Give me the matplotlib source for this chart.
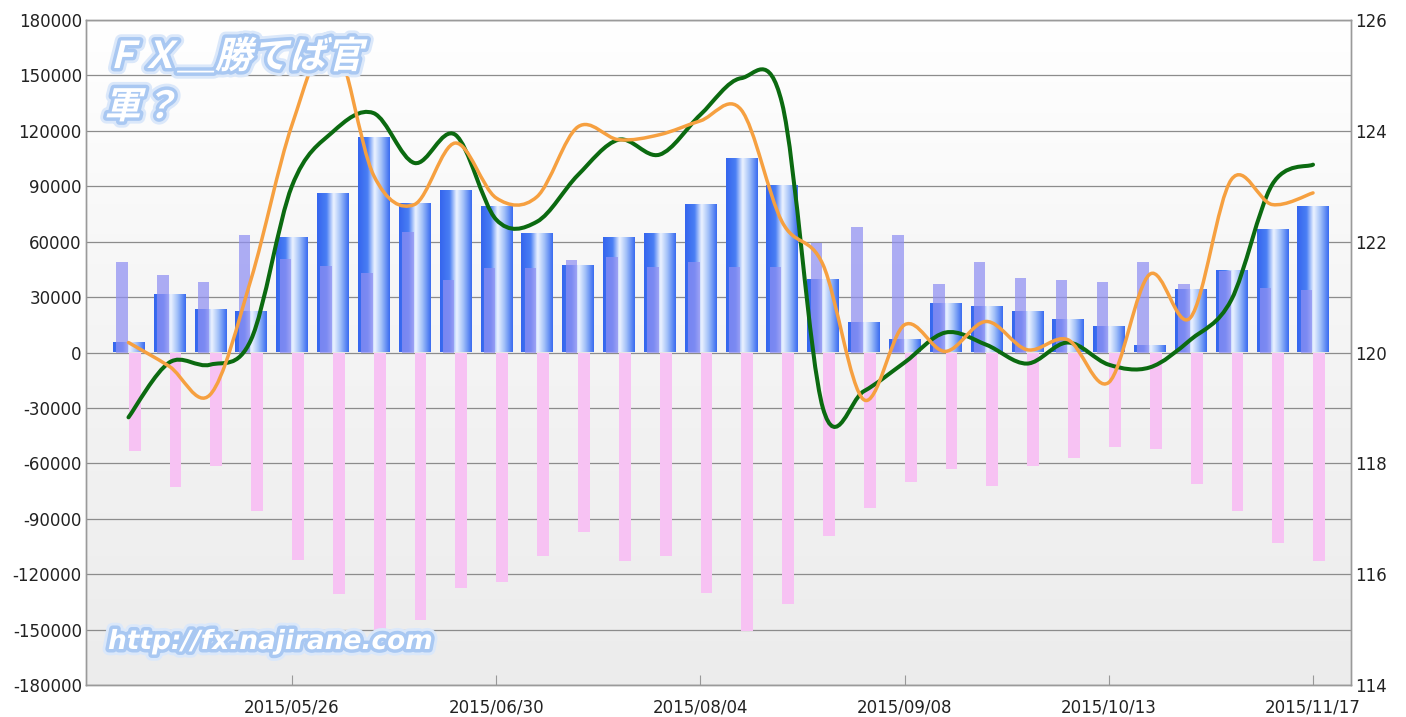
import numpy as np
import matplotlib
matplotlib.use("Agg")
import matplotlib.pyplot as plt
from matplotlib.path import Path
from matplotlib.patches import PathPatch
from matplotlib.colors import LinearSegmentedColormap
from matplotlib.textpath import TextPath
from matplotlib.font_manager import FontProperties
from matplotlib.transforms import Affine2D, IdentityTransform
import matplotlib.patheffects as pe

plt.rcParams['axes.unicode_minus'] = False

# 週ごとの日付
dates = ['2015/04/28', '2015/05/05', '2015/05/12', '2015/05/19', '2015/05/26',
         '2015/06/02', '2015/06/09', '2015/06/16', '2015/06/23', '2015/06/30',
         '2015/07/07', '2015/07/14', '2015/07/21', '2015/07/28', '2015/08/04',
         '2015/08/11', '2015/08/18', '2015/08/25', '2015/09/01', '2015/09/08',
         '2015/09/15', '2015/09/22', '2015/09/29', '2015/10/06', '2015/10/13',
         '2015/10/20', '2015/10/27', '2015/11/03', '2015/11/10', '2015/11/17']

# ネットポジション（青）
net = [5000, 31000, 23000, 22000, 62000, 86000, 116000, 80500, 87500, 79000,
       64000, 47000, 62000, 64000, 80000, 105000, 90000, 39500, 16000, 7000,
       26500, 24500, 22000, 17500, 14000, 3500, 34000, 44000, 66500, 78500]

# ロング（紫）
longs = [49000, 42000, 38000, 63500, 50500, 47000, 43000, 65000, 39500, 46000,
         46000, 50000, 51500, 46500, 49000, 46500, 46500, 59500, 68000, 63500,
         37000, 49000, 40500, 39500, 38000, 49000, 37000, 44000, 35000, 34000]

# ショート（ピンク）
shorts = [-53500, -73000, -61500, -86000, -112500, -131000, -153500, -145000, -127500, -124000,
          -110000, -97000, -113000, -110000, -130000, -151000, -136000, -99500, -84000, -70000,
          -63000, -72000, -61500, -57000, -51000, -52000, -71000, -86000, -103000, -113000]

# 右軸のライン
green_line = [118.83, 119.82, 119.78, 120.23, 123.0, 123.98, 124.32, 123.42, 123.93, 122.4,
              122.36, 123.2, 123.84, 123.57, 124.29, 124.95, 124.5, 119.0, 119.3, 119.82,
              120.36, 120.14, 119.8, 120.18, 119.78, 119.73, 120.23, 120.95, 123.03, 123.39]
orange_line = [120.18, 119.75, 119.24, 121.32, 124.1, 125.65, 123.2, 122.67, 123.78, 122.79,
               122.81, 124.07, 123.84, 123.93, 124.18, 124.38, 122.36, 121.59, 119.15, 120.5,
               120.02, 120.56, 120.05, 120.23, 119.46, 121.41, 120.63, 123.12, 122.67, 122.88]

tick_idx = [4, 9, 14, 19, 24, 29]


def smooth_path(xs, ys):
    # Catmull-Rom をベジェ曲線に変換
    pts = np.column_stack([xs, ys]).astype(float)
    ext = np.vstack([pts[0], pts, pts[-1]])
    verts = [pts[0]]
    codes = [Path.MOVETO]
    for i in range(len(pts) - 1):
        p0, p1, p2, p3 = ext[i], ext[i + 1], ext[i + 2], ext[i + 3]
        verts += [p1 + (p2 - p0) / 6, p2 - (p3 - p1) / 6, p2]
        codes += [Path.CURVE4] * 3
    return Path(verts, codes)


fig = plt.figure(figsize=(14.06, 7.17), dpi=100)
ax = fig.add_axes([86 / 1406, 1 - 685 / 717, (1351 - 86) / 1406, (685 - 20) / 717])

# 背景のグラデーション
bg = LinearSegmentedColormap.from_list('bg', [(0, '#ececec'), (0.45, '#f3f3f3'), (1, '#ffffff')])
ax.imshow(np.linspace(0, 1, 256).reshape(-1, 1), extent=(0, 1, 0, 1), transform=ax.transAxes,
          cmap=bg, aspect='auto', origin='lower', zorder=0)

x = np.arange(len(dates))

# 青い棒（横方向グラデーション）
blue_cm = LinearSegmentedColormap.from_list(
    'blue', [(0, '#3565ee'), (0.3, '#4a7ff4'), (0.52, '#eef4ff'), (0.75, '#9dbdf8'), (1, '#3a6cf0')])
grad = np.linspace(0, 1, 64).reshape(1, -1)
for xi, v in zip(x, net):
    ax.imshow(grad, extent=(xi - 0.38, xi + 0.38, 0, v), cmap=blue_cm, aspect='auto',
              interpolation='bicubic', zorder=2)

ax.bar(x - 0.16, longs, width=0.28, color='#8f8ff2', alpha=0.72, linewidth=0, zorder=3)
ax.bar(x + 0.15, shorts, width=0.29, color='#f7c2f3', linewidth=0, zorder=3)

ax.set_xlim(-1.04, 29.93)
ax.set_ylim(-180000, 180000)
ax.set_yticks(range(-180000, 180001, 30000))
ax.set_xticks(tick_idx)
ax.set_xticklabels([dates[i] for i in tick_idx])
ax.yaxis.grid(True, color='#8c8c8c', linewidth=0.9)
ax.set_axisbelow(True)
ax.tick_params(axis='x', direction='in', length=7, color='#999999', pad=10, labelsize=12,
               labelcolor='#222222')
ax.tick_params(axis='y', length=0, pad=3, labelsize=12, labelcolor='#222222')

ax2 = ax.twinx()
ax2.add_patch(PathPatch(smooth_path(x, green_line), fill=False, edgecolor='#0b6a10',
                        linewidth=2.9, capstyle='round', joinstyle='round', zorder=4))
ax2.add_patch(PathPatch(smooth_path(x, orange_line), fill=False, edgecolor='#f6a040',
                        linewidth=2.5, capstyle='round', joinstyle='round', zorder=5))
ax2.set_xlim(-1.04, 29.93)
ax2.set_ylim(114, 126)
ax2.set_yticks(range(114, 127, 2))
ax2.tick_params(axis='y', length=0, pad=3, labelsize=12, labelcolor='#222222')

for a in (ax, ax2):
    for s in a.spines.values():
        s.set_color('#9a9a9a')
        s.set_linewidth(1)

# 透かし文字（斜体風）
glow = [pe.Stroke(linewidth=9, foreground='#dbe8fa', joinstyle='round'),
        pe.Stroke(linewidth=5, foreground='#a9c8f2', joinstyle='round'),
        pe.Normal()]
jp_font = FontProperties(family='Noto Sans CJK JP', weight='bold')


def skew_text(s, x_px, base_from_top, size_px):
    tp = TextPath((0, 0), s, size=size_px, prop=jp_font)
    tr = Affine2D().skew_deg(14, 0).translate(x_px, 717 - base_from_top)
    fig.add_artist(PathPatch(tr.transform_path(tp), facecolor='white', edgecolor='none',
                             joinstyle='round', transform=IdentityTransform(),
                             path_effects=glow, zorder=10))


skew_text('ＦＸ＿勝てば官', 104, 68, 37)
skew_text('軍？', 104, 118, 37)
fig.text(108 / 1406, 1 - 642 / 717, 'http://fx.najirane.com', color='white', fontsize=19,
         fontweight='bold', style='italic', family='DejaVu Sans',
         va='center', ha='left', path_effects=glow, zorder=10)

fig.savefig('out.png', dpi=100)
